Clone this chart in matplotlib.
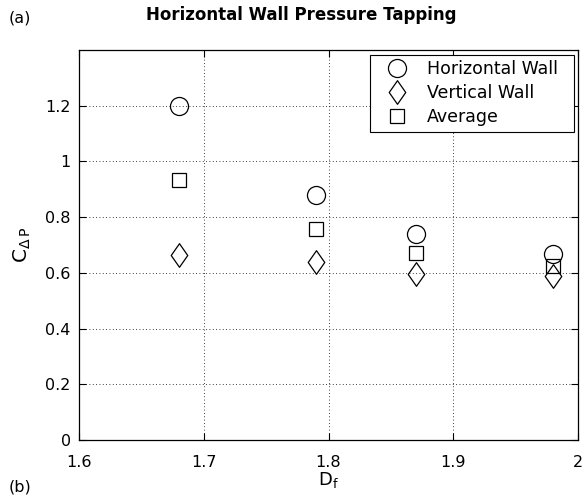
import matplotlib
matplotlib.use("Agg")
import matplotlib.pyplot as plt
from matplotlib.path import Path

plt.rcParams['font.family'] = ['DejaVu Sans']
plt.rcParams['mathtext.fontset'] = 'dejavusans'
plt.rcParams['mathtext.default'] = 'regular'

# Data
d_f = [1.68, 1.79, 1.87, 1.98]
horizontal_wall = [1.20, 0.88, 0.741, 0.669]
vertical_wall = [0.663, 0.640, 0.595, 0.588]
average = [0.932, 0.759, 0.671, 0.624]
x_ticks = [1.6, 1.7, 1.8, 1.9, 2.0]
x_tick_labels = ['1.6', '1.7', '1.8', '1.9', '2']
y_ticks = [0, 0.2, 0.4, 0.6, 0.8, 1.0, 1.2]
y_tick_labels = ['0', '0.2', '0.4', '0.6', '0.8', '1', '1.2']

fig = plt.figure(figsize=(5.84, 5.0), dpi=100)
ax = fig.add_axes([79/584, 1 - 440/500, (578 - 79)/584, (440 - 50)/500])

diamond = Path([(0, 1), (0.7, 0), (0, -1), (-0.7, 0), (0, 1)],
               [Path.MOVETO, Path.LINETO, Path.LINETO, Path.LINETO, Path.CLOSEPOLY])

kw = dict(linestyle='none', markerfacecolor='none', markeredgecolor='black', markeredgewidth=0.9)
ax.plot(d_f, horizontal_wall, marker='o', markersize=13, label='Horizontal Wall', **kw)
ax.plot(d_f, vertical_wall, marker=diamond, markersize=17, label='Vertical Wall', **kw)
ax.plot(d_f, average, marker='s', markersize=10, label='Average', **kw)

ax.set_xlim(1.6, 2.0)
ax.set_ylim(0, 1.4)
ax.set_xticks(x_ticks)
ax.set_xticklabels(x_tick_labels)
ax.set_yticks(y_ticks)
ax.set_yticklabels(y_tick_labels)
ax.tick_params(direction='in', length=5, width=0.8, top=True, right=True, labelsize=11.5)
ax.tick_params(axis='x', pad=11)
ax.tick_params(axis='y', pad=6)
ax.grid(True, linestyle=(0, (1, 3)), color='black', linewidth=0.6)
for s in ax.spines.values():
    s.set_linewidth(0.9)

ax.set_xlabel(r'$D_f$', fontsize=13, labelpad=0)
ax.set_ylabel(r'$C_{\Delta\,P}$', fontsize=14.5, labelpad=9)

fig.text(301/584, 1 - 15/500, 'Horizontal Wall Pressure Tapping', ha='center', va='center',
         fontsize=12, fontweight='bold')
fig.text(9/584, 1 - 18/500, '(a)', ha='left', va='center', fontsize=11.5)
fig.text(9/584, 1 - 487/500, '(b)', ha='left', va='center', fontsize=11.5)

leg_x0 = (370 - 79) / 499
leg_w = (574 - 370) / 499
leg = ax.legend(loc='upper left', bbox_to_anchor=(leg_x0, 0, leg_w, 1.0 - 5/390), mode='expand',
                borderaxespad=0, fontsize=12.5, frameon=True, fancybox=False, edgecolor='black',
                framealpha=1, labelspacing=0.35, handlelength=2.5, handletextpad=0.5, borderpad=0.3)
leg.get_frame().set_linewidth(0.8)

fig.savefig('out.png', dpi=100)
